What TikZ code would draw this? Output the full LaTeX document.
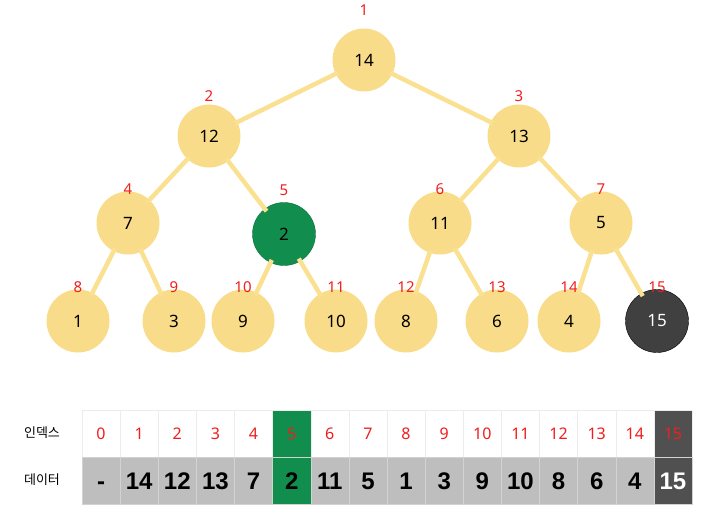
\documentclass[tikz,border=0pt]{standalone}
\usepackage{fontspec}
\setmainfont{Noto Sans}
\newfontfamily\krfont{Noto Sans CJK KR}
\newfontfamily\numfont{Liberation Sans}
\definecolor{heapyellow}{RGB}{249,220,137}
\definecolor{edgeyellow}{RGB}{250,225,145}
\definecolor{swapgreen}{RGB}{17,141,78}
\definecolor{lastgray}{RGB}{64,64,64}
\definecolor{cellgray}{RGB}{190,190,190}
\definecolor{darkcell}{RGB}{80,80,80}
\definecolor{idxred}{RGB}{240,30,30}
\usetikzlibrary{positioning}
\tikzset{
	heap/.style={
		circle,
		fill=heapyellow,
		minimum size=63pt,
		inner sep=0pt,
		font=\fontsize{17}{20}\selectfont
	},
	swapped/.style={
		heap,
		fill=swapgreen,
		draw=swapgreen!80!black
	},
	lastleaf/.style={
		heap,
		fill=lastgray,
		draw=black,
		text=white
	},
	idx/.style={
		text=idxred,
		label distance=-7pt,
		font=\fontsize{15}{18}\selectfont
	},
	link/.style={
		draw=edgeyellow,
		line width=4.5pt,
		shorten <=-3pt,
		shorten >=-3pt
	},
	idxcell/.style={
		rectangle,
		draw=gray!15,
		minimum width=38.125pt,
		minimum height=47pt,
		inner sep=0pt,
		text=idxred,
		font=\fontsize{16}{18}\selectfont
	},
	datcell/.style={
		rectangle,
		draw=gray!35,
		minimum width=38.125pt,
		minimum height=47pt,
		inner sep=0pt,
		font=\numfont\bfseries\fontsize{24}{28}\selectfont
	},
	rowname/.style={
		font=\krfont\fontsize{13}{15}\selectfont
	},
}

\begin{document}
\begin{tikzpicture}[x=1pt,y=-1pt]
\useasboundingbox (0,0) rectangle (720,532);
% heap
\node [heap,label={[idx,label distance=9pt]above:1}] (n1) at (364,60) {14};
\node [heap,label={[idx,label distance=-1pt]above:2}] (n2) at (209,136) {12};
\node [heap,label={[idx,label distance=-1pt]above:3}] (n3) at (519,136) {13};
\node [heap,label={[idx]above:4}] (n4) at (128,223) {7};
\node [swapped,label={[idx,label distance=3pt]above:5}] (n5) at (284,234) {2};
\node [heap,label={[idx]above:6}] (n6) at (440,223) {11};
\node [heap,label={[idx]above:7}] (n7) at (601,223) {5};
\node [heap,label={[idx]above:8}] (n8) at (78,321) {1};
\node [heap,label={[idx]above:9}] (n9) at (174,321) {3};
\node [heap,label={[idx]above:10}] (n10) at (243,321) {9};
\node [heap,label={[idx]above:11}] (n11) at (336,321) {10};
\node [heap,label={[idx]above:12}] (n12) at (406,321) {8};
\node [heap,label={[idx]above:13}] (n13) at (497,321) {6};
\node [heap,label={[idx]above:14}] (n14) at (569,321) {4};
\node [lastleaf,label={[idx]above:15}] (n15) at (657,321) {15};

\path
(n1) edge[link] (n2)
(n1) edge[link] (n3)
(n2) edge[link] (n4)
(n2) edge[link] (n5)
(n3) edge[link] (n6)
(n3) edge[link] (n7)
(n4) edge[link] (n8)
(n4) edge[link] (n9)
(n5) edge[link] (n10)
(n5) edge[link] (n11)
(n6) edge[link] (n12)
(n6) edge[link] (n13)
(n7) edge[link] (n14)
(n7) edge[link] (n15)
;

% array
\node [rowname] (rowidx) at (42,433) {인덱스};
\node [rowname] (rowdat) at (42,480) {데이터};
\foreach \v [count=\i from 0] in {-,14,12,13,7,2,11,5,1,3,9,10,8,6,4,15} {
	\colorlet{topfill}{white}\colorlet{botfill}{cellgray}\colorlet{numcol}{black}
	\ifnum\i=5 \colorlet{topfill}{swapgreen}\colorlet{botfill}{swapgreen}\fi
	\ifnum\i=15 \colorlet{topfill}{darkcell}\colorlet{botfill}{darkcell}\colorlet{numcol}{white}\fi
	\node [idxcell,fill=topfill] (i\i) at ({82+38.125*(\i+0.5)},433.5) {\i};
	\node [datcell,fill=botfill,text=numcol,below=0pt of i\i] (d\i) {\vphantom{0}\v};
}
\end{tikzpicture}
\end{document}
